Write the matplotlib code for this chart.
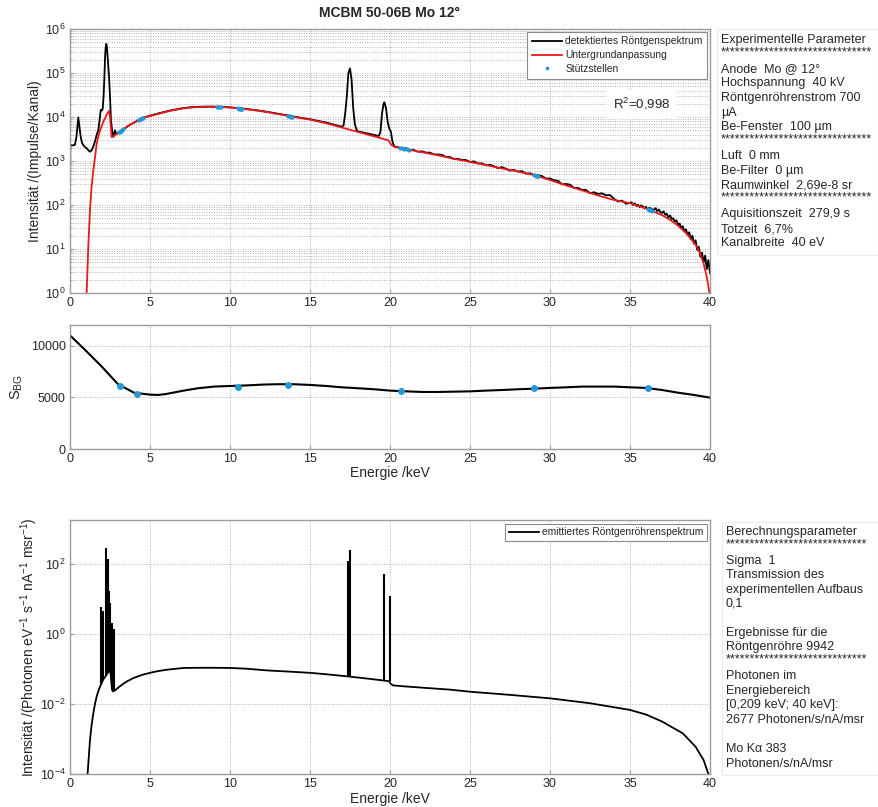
import numpy as np
import matplotlib
matplotlib.use("Agg")
import matplotlib.pyplot as plt
from matplotlib.patches import Rectangle
from matplotlib.ticker import FixedLocator, NullLocator, LogLocator, LogFormatterSciNotation

plt.rcParams['font.family'] = ['Liberation Sans', 'DejaVu Sans']
plt.rcParams['mathtext.fontset'] = 'custom'
plt.rcParams['mathtext.rm'] = 'Liberation Sans'
plt.rcParams['mathtext.it'] = 'Liberation Sans:italic'

# ---------------- data: detected spectrum (counts per channel) ----------------
det_E_low = [0.0, 0.02, 0.1, 0.2, 0.31, 0.4, 0.46, 0.52, 0.56, 0.6, 0.67, 0.75, 0.83, 0.95,
             1.04, 1.15, 1.25, 1.35, 1.46, 1.55, 1.63, 1.7, 1.77, 1.85, 1.92, 1.98, 2.04,
             2.1, 2.15, 2.19, 2.23, 2.27, 2.31, 2.35, 2.4, 2.44, 2.5, 2.56, 2.63, 2.71,
             2.76, 2.81, 2.86, 2.92, 3.0]
det_I_low = [200, 2200, 2300, 2250, 2350, 3500, 6000, 9800, 7500, 5500, 3500, 2600, 2300, 2050,
             1950, 1750, 1620, 1750, 2150, 2700, 3500, 4300, 5000, 8500, 14500, 14000, 15000,
             30000, 80000, 230000, 380000, 460000, 380000, 230000, 130000, 83000, 29000, 8500,
             5000, 3550, 4200, 5000, 4400, 4100, 4300]
det_E_mid = [3.13, 3.3, 3.5, 3.75, 4.1, 4.48, 5.0, 5.6, 6.25, 7.0, 7.7, 8.75, 9.5, 10.0,
             11.0, 12.0, 13.0, 14.0, 15.0, 16.0, 16.5, 17.0]
det_I_mid = [4700, 5100, 5800, 6700, 7800, 9400, 10700, 12300, 14000, 15800, 16900, 17300,
             17000, 16600, 15300, 13700, 11900, 10200, 8900, 7500, 6700, 6000]
det_E_mo = [17.1, 17.2, 17.3, 17.4, 17.5, 17.6, 17.7, 17.8, 17.9, 18.0, 18.5, 19.0, 19.3,
            19.4, 19.5, 19.6, 19.65, 19.75, 19.85, 19.95, 20.05, 20.15, 20.25, 20.4]
det_I_mo = [6500, 12000, 29000, 100000, 127000, 70000, 16000, 7000, 5200, 4700, 4300, 3900,
            3700, 4500, 12000, 20000, 21500, 16000, 8000, 5500, 4700, 2800, 2200, 2050]
det_E_high1 = np.round(np.arange(20.5, 35.001, 0.25), 2)   # channel grid
det_I_high1 = [2065, 1905, 1950, 1780, 1780, 1620, 1660, 1550, 1550, 1410,
               1410, 1380, 1230, 1230, 1100, 1120, 1060, 1050,
               955, 980, 880, 885, 795, 820, 760, 690,
               725, 665, 605, 625, 575, 590, 515, 525,
               480, 475, 455, 400, 400, 365, 355, 295,
               300, 290, 245, 245, 220, 220, 185, 195,
               178, 184, 166, 168, 138, 120, 126, 107, 112]
det_E_high2 = np.round(np.arange(35.1, 40.001, 0.1), 2)    # channel grid
det_I_high2 = [115, 100, 110, 95, 102, 89, 98, 93, 85, 91,
               79, 87, 83, 80, 78, 85, 72, 79, 69, 66,
               72, 60, 63, 52, 58, 48, 50, 42, 45, 35,
               38, 30, 33, 25, 28, 21, 24, 16.6, 20, 13.2,
               15.8, 9.5, 11.2, 6.6, 8.3, 5.0, 7.1, 3.5, 5.6, 2.8]

# ---------------- data: background fit ----------------
bg_E = [1.04, 1.15, 1.25, 1.35, 1.46, 1.56, 1.67, 1.77, 1.88, 2.0,
        2.08, 2.2, 2.29, 2.38, 2.44, 2.5, 2.55, 2.6, 2.71, 2.9,
        3.13, 3.5, 3.75, 4.1, 4.48, 5.0, 5.6, 6.25, 7.0, 7.7,
        8.75, 9.5, 10, 11, 12, 13, 14, 15, 16, 17,
        18, 19, 19.9, 20.1, 20.3, 21, 22, 23, 24, 25,
        26, 27, 28, 29, 30, 31, 32, 33, 34, 35,
        36, 37, 37.5, 38, 38.5, 39, 39.2, 39.4, 39.6, 39.8, 39.95, 40]
bg_I = [1, 13, 78, 260, 630, 1200, 2500, 3600, 5000, 6500,
        7800, 9500, 11200, 12800, 13800, 10000, 6000, 3500, 3600, 4100,
        4680, 5750, 6600, 7760, 9330, 10500, 12000, 13800, 15500, 16600,
        17000, 16800, 16400, 15100, 13500, 11700, 10000, 8700, 7250, 5750,
        4570, 3630, 2950, 2290, 2090, 1860, 1585, 1350, 1120, 955,
        810, 675, 575, 480, 370, 280, 215, 165, 130, 110,
        83, 59, 46, 34, 23, 14, 11, 7.6, 4.7, 2.3, 1.1, 0.8]

# support points (top panel)
st_E = [3.05, 3.12, 3.19, 3.26, 3.33, 4.3, 4.37, 4.44, 4.51, 4.58, 9.2, 9.27, 9.34, 9.41,
        10.5, 10.57, 10.64, 10.71, 10.78, 13.6, 13.67, 13.74, 13.81, 13.88,
        20.6, 20.75, 20.9, 21.05, 21.2,
        29.0, 29.07, 29.14, 29.21, 29.28, 36.1, 36.17, 36.24, 36.31, 36.38]
st_I = [4500, 4650, 4820, 5000, 5200, 8500, 8780, 9050, 9300, 9500, 16900, 16900, 16880, 16850,
        15800, 15600, 15500, 15420, 15300, 10700, 10560, 10400, 10250, 10100,
        2000, 1950, 1900, 1850, 1800,
        480, 471, 462, 454, 446, 80, 79, 77, 75, 73]

# ---------------- data: S_BG ----------------
sbg_E = [0, 1, 2, 3, 4, 5, 5.5, 6, 7, 8, 9, 10, 11, 12, 13, 14, 15, 16, 17, 18, 19, 20,
         21, 22, 23, 24, 25, 26, 27, 28, 29, 30, 31, 32, 33, 34, 35, 36, 37, 38, 39, 40]
sbg = [11000, 9500, 7950, 6270, 5450, 5260, 5230, 5320, 5620, 5880, 6040, 6100,
       6150, 6230, 6270, 6270, 6200, 6100, 5970, 5880, 5780, 5650,
       5580, 5520, 5520, 5550, 5580, 5650, 5710, 5780, 5840, 5910,
       5970, 6040, 6040, 6040, 5970, 5910, 5710, 5450, 5230, 4970]
sbg_pt_E = [3.1, 4.2, 10.5, 13.6, 20.7, 29.0, 36.1]
sbg_pt = [6060, 5350, 6000, 6200, 5650, 5880, 5900]

# ---------------- data: emitted tube spectrum ----------------
em_E = [1.05, 1.1, 1.25, 1.35, 1.46, 1.56, 1.67, 1.77, 1.88, 2.0, 2.08,
        2.2, 2.29, 2.4, 2.5, 2.55, 2.62, 2.67, 2.8, 3.1, 3.5,
        3.96, 4.5, 5.0, 5.5, 6.04, 7.1, 8.1, 9.0, 10.0, 11.0,
        12.3, 13.5, 15.0, 16.0, 17.3, 18.5, 19.6, 19.95, 20.05, 20.2,
        21.0, 22.5, 23.75, 25.0, 27.5, 30.0, 32.5, 35.0, 36.0, 37.0,
        38.3, 39.1, 39.6, 39.9, 40.0]
em_I = [3e-5, 1e-4, 9.5e-4, 2.5e-3, 5.5e-3, 0.01, 0.0166, 0.0234, 0.0316, 0.0417, 0.05,
        0.06, 0.069, 0.083, 0.095, 0.063, 0.028, 0.023, 0.024, 0.0316, 0.0427,
        0.055, 0.0676, 0.0776, 0.087, 0.095, 0.107, 0.108, 0.108, 0.107, 0.102,
        0.091, 0.085, 0.0776, 0.0708, 0.0617, 0.0537, 0.0468, 0.0447, 0.0372, 0.0339,
        0.0316, 0.0282, 0.0257, 0.0224, 0.0182, 0.0145, 0.0105, 0.00676, 0.005, 0.00316,
        0.00145, 6.0e-4, 2.5e-4, 1e-4, 3e-5]
line_E = [1.96, 2.06, 2.25, 2.30, 2.35, 2.40, 2.44, 2.52, 2.63, 2.77, 17.37, 17.48, 19.61, 19.97]
line_peak = [5.8, 4.6, 280, 60, 140, 30, 17, 7.5, 2.1, 1.4, 120, 245, 52, 12]
line_base = [0.038, 0.048, 0.065, 0.071, 0.076, 0.083, 0.087, 0.09, 0.025, 0.023,
             0.062, 0.061, 0.047, 0.045]

xticks = [0, 5, 10, 15, 20, 25, 30, 35, 40]

exp_lines = ["Experimentelle Parameter", "*" * 31,
             "Anode  Mo @ 12°", "Hochspannung  40 kV", "Röntgenröhrenstrom 700", "µA",
             "Be-Fenster  100 µm", "*" * 31,
             "Luft  0 mm", "Be-Filter  0 µm", "Raumwinkel  2,69e-8 sr", "*" * 31,
             "Aquisitionszeit  279,9 s", "Totzeit  6,7%", "Kanalbreite  40 eV"]
exp_y = [40, 52, 69, 83, 98, 113, 127, 139, 156, 171, 185, 197, 214, 229, 243]
calc_lines = ["Berechnungsparameter", "*" * 29,
              "Sigma  1", "Transmission des", "experimentellen Aufbaus", "0,1",
              "Ergebnisse für die", "Röntgenröhre 9942", "*" * 29,
              "Photonen im", "Energiebereich", "[0,209 keV; 40 keV]:", "2677 Photonen/s/nA/msr",
              "Mo K\u03b1 383", "Photonen/s/nA/msr"]
calc_y = [532, 544, 561, 575, 590, 604, 633, 647, 659, 676, 691, 705, 720, 749, 764]

# ---------------- figure ----------------
W, H = 879, 807
fig = plt.figure(figsize=(W / 100, H / 100), dpi=100)

def rect(l, t, r, b):
    return [l / W, 1 - b / H, (r - l) / W, (b - t) / H]

SPINE = '#9c9c9c'
TXT = '#262626'
GRID = dict(color='#b4b4b4', linestyle=(0, (1, 1.5)), linewidth=0.7)
BLUE = '#2399d8'

def style(ax):
    for s in ax.spines.values():
        s.set_color(SPINE)
        s.set_linewidth(1.0)
    ax.tick_params(which='both', direction='in', colors=SPINE, labelcolor=TXT,
                   labelsize=9, length=3, pad=3)
    ax.tick_params(which='minor', length=1.5)
    ax.set_xlim(0, 40)
    ax.set_xticks(xticks)
    ax.xaxis.set_minor_locator(NullLocator())

def style_legend(leg):
    fr = leg.get_frame()
    fr.set_edgecolor('#8a8a8a')
    fr.set_linewidth(0.8)
    for t in leg.get_texts():
        t.set_color(TXT)

# ---- top ----
ax1 = fig.add_axes(rect(70, 29, 710, 293))
style(ax1)
ax1.set_yscale('log')
ax1.set_ylim(1, 1e6)
ax1.yaxis.set_major_locator(LogLocator(base=10, numticks=10))
ax1.yaxis.set_minor_locator(LogLocator(base=10, subs=np.arange(2, 10), numticks=20))
ax1.grid(True, which='major', axis='both', **GRID)
ax1.grid(True, which='minor', axis='y', **GRID)
ax1.set_axisbelow(True)
E_det = np.concatenate([det_E_low, det_E_mid, det_E_mo, det_E_high1, det_E_high2])
I_det = np.concatenate([det_I_low, det_I_mid, det_I_mo, det_I_high1, det_I_high2])
h1, = ax1.plot(E_det, I_det, color='black', lw=1.3, label='detektiertes Röntgenspektrum')
h2, = ax1.plot(bg_E, bg_I, color='#e8191c', lw=1.3, label='Untergrundanpassung')
h3, = ax1.plot(st_E, st_I, linestyle='none', marker='o', ms=3.0, color=BLUE,
               markeredgewidth=0, label='Stützstellen')
leg1 = ax1.legend(handles=[h1, h2, h3], loc='upper right', bbox_to_anchor=(0.9955, 0.99),
                  fontsize=7.4, frameon=True, fancybox=False, framealpha=1,
                  borderpad=0.45, labelspacing=0.38, handlelength=2.9,
                  handletextpad=0.35, borderaxespad=0.0, markerscale=0.9)
style_legend(leg1)
ax1.text(0.893, 0.716, 'R$^2$=0,998', transform=ax1.transAxes, ha='center', va='center',
         fontsize=9.5, color=TXT, backgroundcolor='white')
ax1.set_ylabel('Intensität /(Impulse/Kanal)', fontsize=10, color=TXT)
ax1.yaxis.set_label_coords(-0.044, 0.5)
ax1.set_title('MCBM 50-06B Mo 12°', fontsize=10, fontweight='bold', color=TXT, pad=9)

# ---- middle ----
ax2 = fig.add_axes(rect(70, 325, 710, 449))
style(ax2)
ax2.set_ylim(0, 12000)
ax2.set_yticks([0, 5000, 10000])
ax2.grid(True, which='major', **GRID)
ax2.set_axisbelow(True)
ax2.plot(sbg_E, sbg, color='black', lw=1.5)
ax2.plot(sbg_pt_E, sbg_pt, linestyle='none', marker='o', ms=5, color=BLUE, markeredgewidth=0)
ax2.set_ylabel('S$_{\\mathregular{BG}}$', fontsize=10.5, color=TXT)
ax2.yaxis.set_label_coords(-0.07, 0.5)
ax2.set_xlabel('Energie /keV', fontsize=10, color=TXT)
ax2.xaxis.set_label_coords(0.5, -0.14)

# ---- bottom ----
ax3 = fig.add_axes(rect(70, 520, 710, 774))
style(ax3)
ax3.set_yscale('log')
ax3.set_ylim(1e-4, 1.8e3)
ax3.yaxis.set_major_locator(FixedLocator([1e-4, 1e-2, 1e0, 1e2]))
ax3.yaxis.set_major_formatter(LogFormatterSciNotation())
ax3.yaxis.set_minor_locator(NullLocator())
ax3.grid(True, which='major', **GRID)
ax3.set_axisbelow(True)
h4, = ax3.plot(em_E, em_I, color='black', lw=1.3, label='emittiertes Röntgenröhrenspektrum')
ax3.vlines(line_E, line_base, line_peak, color='black', lw=1.5)
leg3 = ax3.legend(handles=[h4], loc='upper right', bbox_to_anchor=(0.9955, 0.985),
                  fontsize=7.4, frameon=True, fancybox=False, framealpha=1,
                  borderpad=0.35, handlelength=2.9, handletextpad=0.35, borderaxespad=0.0)
style_legend(leg3)
ax3.set_ylabel('Intensität /(Photonen eV$^{-1}$ s$^{-1}$ nA$^{-1}$ msr$^{-1}$)', fontsize=10,
               color=TXT)
ax3.yaxis.set_label_coords(-0.047, 0.5)
ax3.set_xlabel('Energie /keV', fontsize=10, color=TXT)
ax3.xaxis.set_label_coords(0.5, -0.072)

# ---- right text panels ----
fig.patches.append(Rectangle((717 / W, 1 - 255 / H), (878 - 717) / W, (255 - 29) / H,
                             transform=fig.transFigure, fill=False, edgecolor='#ececec', lw=0.8))
fig.patches.append(Rectangle((722 / W, 1 - 775 / H), (878 - 722) / W, (775 - 522) / H,
                             transform=fig.transFigure, fill=False, edgecolor='#ececec', lw=0.8))
for s, y in zip(exp_lines, exp_y):
    fig.text(721 / W, 1 - y / H, s, fontsize=9, color=TXT, ha='left', va='center')
for s, y in zip(calc_lines, calc_y):
    fig.text(726 / W, 1 - y / H, s, fontsize=9, color=TXT, ha='left', va='center')

fig.savefig('out.png', dpi=100)
